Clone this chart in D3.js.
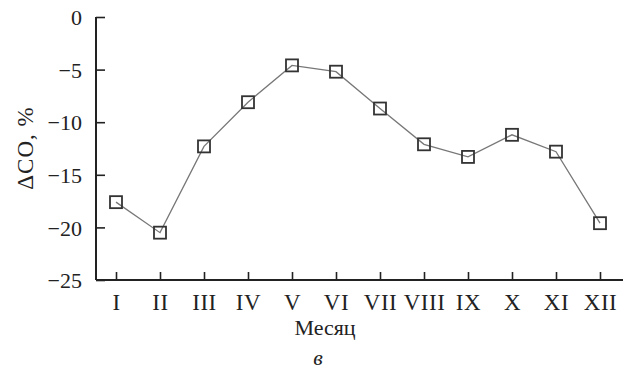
<!DOCTYPE html>
<meta charset="utf-8">
<script src="https://d3js.org/d3.v7.min.js"></script>
<style>
  body { margin: 0; background: #fff; }
  text { font-family: "Liberation Serif", "DejaVu Serif", serif; fill: #222; }
</style>
<div id="my_dataviz"></div>
<script>

// data
var months = ["I", "II", "III", "IV", "V", "VI", "VII", "VIII", "IX", "X", "XI", "XII"];
var dCO = [-17.6, -20.5, -12.3, -8.1, -4.6, -5.2, -8.7, -12.1, -13.3, -11.2, -12.8, -19.6];
var yTicks = [0, -5, -10, -15, -20, -25];

var W = 630, H = 369;
var margin = {top: 17, right: 7, bottom: 89, left: 96},
    width = W - margin.left - margin.right,
    height = H - margin.top - margin.bottom;

var svg = d3.select("#my_dataviz")
  .append("svg")
    .attr("width", W)
    .attr("height", H)
  .append("g")
    .attr("transform", "translate(" + margin.left + "," + margin.top + ")");

// X axis
var x = d3.scalePoint()
  .domain(months)
  .range([20, 504]);

var y = d3.scaleLinear()
  .domain([-25, 0])
  .range([height, 0]);

var xAxis = svg.append("g")
  .attr("transform", "translate(0," + height + ")")
  .call(d3.axisBottom(x).tickSize(-8).tickPadding(14));
xAxis.select(".domain").attr("d", "M0,0H" + width);

var yAxis = svg.append("g")
  .call(d3.axisLeft(y).tickValues(yTicks).tickSize(-9).tickPadding(14)
    .tickFormat(function(d){ return d3.format("")(d).replace("-", "\u2212"); }));
yAxis.select(".domain").attr("d", "M0,0V" + height);

svg.selectAll(".domain").attr("stroke", "#222").attr("stroke-width", 2);
svg.selectAll(".tick line").attr("stroke", "#222").attr("stroke-width", 1.6);
xAxis.selectAll(".tick text").attr("font-size", 23).attr("letter-spacing", 0.5).attr("fill", "#222");
yAxis.selectAll(".tick text").attr("font-size", 22).attr("fill", "#222").attr("dy", "0.35em");

// line
var pts = months.map(function(m, i){ return {m: m, v: dCO[i]}; });
svg.append("path")
  .datum(pts)
  .attr("fill", "none")
  .attr("stroke", "#777")
  .attr("stroke-width", 1.3)
  .attr("d", d3.line()
    .x(function(d){ return x(d.m); })
    .y(function(d){ return y(d.v); }));

// square markers
var s = 12;
svg.selectAll("rect.mk")
  .data(pts)
  .enter()
  .append("rect")
    .attr("class", "mk")
    .attr("x", function(d){ return x(d.m) - s/2; })
    .attr("y", function(d){ return y(d.v) - s/2; })
    .attr("width", s)
    .attr("height", s)
    .attr("fill", "none")
    .attr("stroke", "#333")
    .attr("stroke-width", 1.8);

// labels
svg.append("text")
  .attr("transform", "translate(" + (33 - margin.left) + "," + (148 - margin.top) + ") rotate(-90)")
  .attr("text-anchor", "middle")
  .attr("font-size", 23)
  .attr("letter-spacing", 1)
  .text("\u0394CO, %");

svg.append("text")
  .attr("x", 325 - margin.left)
  .attr("y", 335 - margin.top)
  .attr("text-anchor", "middle")
  .attr("font-size", 22)
  .text("Месяц");

svg.append("text")
  .attr("x", 318 - margin.left)
  .attr("y", 365 - margin.top)
  .attr("text-anchor", "middle")
  .attr("font-size", 22)
  .attr("font-style", "italic")
  .text("в");

</script>
